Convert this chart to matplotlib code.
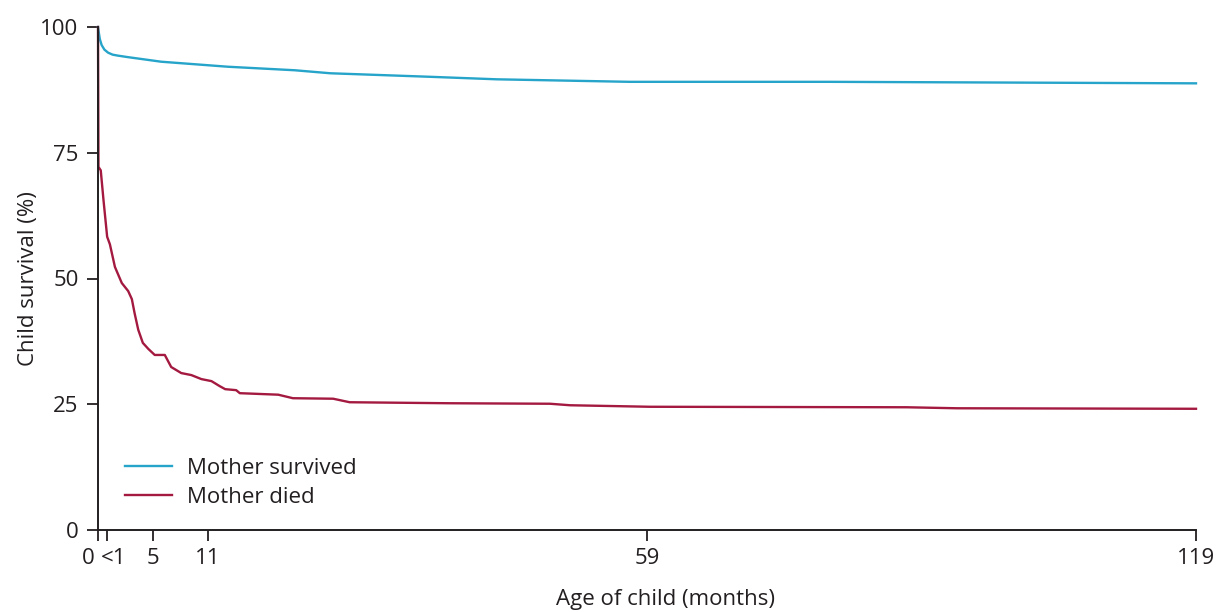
import matplotlib
matplotlib.use("Agg")
import matplotlib.pyplot as plt
from matplotlib.transforms import ScaledTranslation

# Kaplan-Meier style child survival by maternal survival status
died_months = [-1.0, -0.95, -0.7, -0.4, 0.0, 0.3, 0.85, 1.6, 2.3, 2.7, 3.0, 3.4,
               3.9, 4.5, 5.2, 6.3, 7.0, 8.1, 9.2, 10.3, 11.4, 12.3, 12.9, 14.1,
               14.5, 18.7, 20.3, 24.7, 26.5, 37.4, 48.4, 50.6, 59.3, 87.4, 92.9, 119.0]
died_surv = [100.0, 72.2, 71.5, 65.6, 58.3, 56.8, 52.3, 49.1, 47.5, 45.9, 43.1, 39.8,
             37.2, 36.0, 34.8, 34.8, 32.4, 31.2, 30.8, 30.0, 29.6, 28.6, 28.0, 27.8,
             27.2, 26.9, 26.2, 26.1, 25.4, 25.2, 25.1, 24.8, 24.5, 24.4, 24.2, 24.1]

survived_months = [-1.0, -0.92, -0.8, -0.6, -0.3, 0.1, 0.6, 1.2, 2.3, 5.9, 13.2, 20.5,
                   24.4, 35.3, 42.6, 57.1, 68.0, 79.0, 119.0]
survived_surv = [100.0, 99.0, 97.6, 96.4, 95.5, 94.9, 94.5, 94.3, 94.0, 93.1, 92.1, 91.4,
                 90.8, 90.1, 89.6, 89.1, 89.1, 89.1, 88.8]

x_tick_pos = [-1, 0, 5, 11, 59, 119]
x_tick_labels = ["0", "<1", "5", "11", "59", "119"]
y_ticks = [0, 25, 50, 75, 100]

blue = "#27A4C9"
red = "#A3193F"
ink = "#231F20"
fs = 16

plt.rcParams["font.family"] = ["Open Sans", "DejaVu Sans"]

fig = plt.figure(figsize=(12.25, 6.12), dpi=100)
ax = fig.add_axes([98 / 1225, (612 - 530) / 612, (1196 - 98) / 1225, (530 - 27) / 612])

ax.plot(survived_months, survived_surv, color=blue, lw=1.7, label="Mother survived",
        solid_joinstyle="round", clip_on=False)
ax.plot(died_months, died_surv, color=red, lw=1.7, label="Mother died",
        solid_joinstyle="round", clip_on=False)

ax.set_xlim(-1, 119)
ax.set_ylim(0, 100)
ax.set_xticks(x_tick_pos)
ax.set_xticklabels(x_tick_labels)
ax.set_yticks(y_ticks)

for side in ("top", "right"):
    ax.spines[side].set_visible(False)
for side in ("left", "bottom"):
    ax.spines[side].set_linewidth(1.4)
    ax.spines[side].set_color(ink)

ax.tick_params(axis="both", direction="out", length=8, width=1.3, color=ink,
               labelsize=fs, labelcolor=ink)
ax.tick_params(axis="y", pad=6)
ax.tick_params(axis="x", pad=5)

# nudge the two crowded labels at the origin apart
shifts = {"0": -7 / 72, "<1": 5 / 72}
for lab in ax.get_xticklabels():
    dx = shifts.get(lab.get_text(), 0)
    if dx:
        lab.set_transform(lab.get_transform() + ScaledTranslation(dx, 0, fig.dpi_scale_trans))

ax.set_ylabel("Child survival (%)", fontsize=fs, color=ink)
ax.yaxis.set_label_coords(-0.054, 0.5)
ax.set_xlabel("Age of child (months)", fontsize=fs, color=ink)
ax.xaxis.set_label_coords(0.517, -0.118)

leg = ax.legend(loc="lower left", bbox_to_anchor=(0.0246, 0.044), frameon=False,
                fontsize=fs, handlelength=2.1, handletextpad=0.68,
                labelspacing=0.36, borderaxespad=0, borderpad=0)
for t in leg.get_texts():
    t.set_color(ink)

fig.savefig("out.png", dpi=100, facecolor="white")
